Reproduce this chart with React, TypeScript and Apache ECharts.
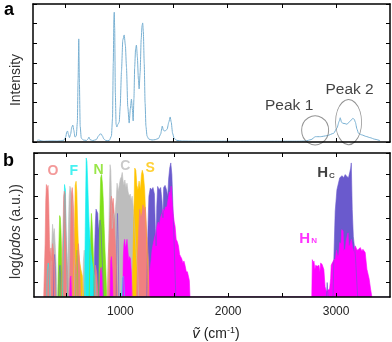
import React, { useEffect, useRef } from "react";
import * as echarts from "echarts";

const F = -0.67; // floor of the log(pdos) axis

// Panel a: IR spectrum [wavenumber, intensity]
const spectrum: [number, number][] = [
  [237, 0.08], [255, 0.1], [275, 0.06], [300, 0.04], [340, 0.05], [380, 0.06], [420, 0.05], [460, 0.06],
  [488, 0.1], [502, 0.25], [512, 0.5], [519, 0.56], [527, 0.4], [537, 0.22], [548, 0.4], [558, 0.75],
  [568, 0.86], [577, 0.6], [588, 0.25], [600, 0.3], [610, 1.0], [617, 3.2], [623, 5.23], [629, 3.0],
  [636, 0.8], [646, 0.2], [665, 0.1], [695, 0.08], [708, 0.15], [717, 0.25], [727, 0.12], [752, 0.07],
  [785, 0.12], [805, 0.3], [818, 0.4], [830, 0.41], [842, 0.3], [855, 0.15], [875, 0.07], [905, 0.08],
  [925, 0.3], [935, 1.2], [942, 4.0], [948, 6.3], [951, 6.58], [955, 5.8], [961, 2.5], [968, 0.9],
  [975, 0.76], [985, 0.9], [997, 1.01], [1006, 1.8], [1018, 3.6], [1030, 5.17], [1043, 5.43], [1054, 4.9],
  [1064, 3.8], [1076, 1.8], [1089, 0.96], [1100, 1.7], [1110, 2.18], [1118, 1.7], [1126, 1.07], [1133, 2.2],
  [1140, 3.8], [1148, 4.7], [1156, 4.92], [1165, 4.3], [1174, 3.2], [1181, 2.69], [1190, 3.5], [1200, 5.2],
  [1208, 5.9], [1214, 6.04], [1220, 5.6], [1228, 4.0], [1236, 2.0], [1244, 0.8], [1254, 0.3], [1270, 0.15],
  [1300, 0.1], [1330, 0.12], [1360, 0.18], [1380, 0.4], [1395, 0.81], [1405, 0.6], [1420, 0.55], [1440, 0.65],
  [1455, 1.0], [1468, 1.27], [1478, 1.0], [1490, 0.45], [1505, 0.18], [1530, 0.08], [1580, 0.05], [1700, 0.04],
  [1900, 0.04], [2100, 0.04], [2300, 0.04], [2500, 0.04], [2650, 0.04], [2719, 0.05], [2770, 0.12], [2811, 0.27],
  [2857, 0.27], [2918, 0.32], [2979, 0.44], [3010, 0.71], [3030, 1.05], [3040, 1.23], [3052, 1.0], [3065, 0.95],
  [3085, 0.93], [3102, 0.9], [3130, 1.05], [3157, 1.2], [3170, 1.15], [3180, 1.0], [3195, 0.65], [3209, 0.44],
  [3240, 0.36], [3280, 0.28], [3316, 0.22], [3360, 0.14], [3408, 0.07],
];

// Peak annotations (panel a)
const peakLabels = ["Peak 1", "Peak 2"];
const peakW = [2808, 3117];
const peakV = [0.59, 1.01];

// Panel b: projected densities of states [wavenumber, log(pdos)]
const pdosHC: [number, number][] = [
  [200, F], [380, F], [386, 0.8], [392, 1.3], [398, 0.8], [404, F], [428, F], [434, 0.5], [440, 0.8], [446, 0.4],
  [452, F], [756, F], [762, 1.5], [768, 2.6], [775, 3.4], [783, 3.3], [791, 3.2], [798, 2.4], [805, 2.7],
  [812, 2.9], [820, 2.6], [828, 1.6], [836, 0.6], [844, F], [962, F], [968, 2.0], [974, 3.2], [980, 2.0],
  [986, F], [1245, F], [1252, 1.5], [1258, 2.8], [1265, 4.0], [1278, 4.38], [1290, 4.3], [1303, 4.4],
  [1316, 4.1], [1325, 2.5], [1332, 1.7], [1338, 3.5], [1346, 4.45], [1360, 4.3], [1374, 4.4], [1386, 3.8],
  [1395, 3.0], [1402, 4.4], [1415, 4.5], [1428, 4.3], [1440, 4.0], [1448, 4.8], [1458, 5.3], [1468, 5.54],
  [1478, 5.0], [1488, 3.5], [1498, 2.0], [1507, 0.5], [1515, F], [2910, F], [2918, 0.0], [2926, F], [2972, F],
  [2980, 1.2], [2992, 3.3], [3008, 4.3], [3034, 4.85], [3056, 4.95], [3070, 4.85], [3085, 5.0], [3102, 4.9],
  [3115, 4.85], [3126, 5.08], [3136, 5.3], [3141, 5.54], [3150, 3.38], [3160, 2.14], [3180, 1.2], [3200, F],
  [3500, F],
];
const pdosC: [number, number][] = [
  [352, F], [358, 0.8], [365, 1.8], [372, 2.7], [380, 2.2], [388, 2.5], [396, 1.8], [404, 1.0], [412, F],
  [505, F], [512, 1.0], [519, 2.5], [526, 4.0], [533, 4.46], [541, 4.3], [549, 4.0], [557, 3.8], [565, 2.8],
  [573, 1.5], [582, F], [650, F], [658, 1.0], [666, 1.5], [674, F], [885, F], [893, 2.0], [899, 4.0],
  [905, 5.46], [912, 5.2], [918, 4.0], [925, 2.5], [932, 2.8], [940, 3.2], [948, 3.0], [955, 3.4], [962, 3.85],
  [970, 4.6], [980, 4.2], [990, 4.5], [1000, 4.8], [1010, 4.9], [1018, 5.1], [1026, 4.7], [1034, 4.5],
  [1042, 4.75], [1052, 4.4], [1062, 4.6], [1072, 4.2], [1082, 4.0], [1092, 4.1], [1100, 3.8], [1110, 4.0],
  [1120, 3.5], [1130, 2.8], [1140, 2.0], [1150, 1.2], [1160, 0.6], [1170, F],
];
const pdosN: [number, number][] = [
  [420, F], [426, 1.0], [432, 2.0], [438, 3.1], [444, 3.0], [450, 2.4], [457, 1.2], [464, F], [585, F],
  [592, 0.8], [600, 1.5], [608, F], [712, F], [718, 1.2], [725, 2.2], [732, 3.2], [738, 2.8], [745, 2.0],
  [752, 1.0], [760, F], [800, F], [806, 2.0], [812, 3.5], [818, 4.85], [826, 5.0], [834, 4.6], [842, 3.8],
  [850, 2.6], [858, 1.5], [866, 0.6], [874, F],
];
const pdosF: [number, number][] = [
  [318, F], [324, 0.6], [332, 0.9], [340, 0.5], [348, F], [465, F], [471, 1.5], [477, 3.0], [483, 4.54],
  [491, 4.3], [498, 2.2], [505, 0.8], [512, F], [668, F], [674, 2.0], [679, 4.0], [684, 5.77], [691, 5.6],
  [698, 4.6], [705, 3.5], [712, 2.6], [720, 1.9], [730, 1.3], [740, 0.9], [752, 0.5], [765, 0.2], [775, F],
  [1012, F], [1020, 0.2], [1030, 0.3], [1040, F],
];
const pdosS: [number, number][] = [
  [564, F], [570, 1.0], [576, 2.6], [582, 4.5], [590, 4.69], [597, 4.2], [604, 2.8], [612, 1.6], [622, 1.0],
  [635, 0.6], [648, 0.3], [660, F], [1110, F], [1118, 1.5], [1126, 3.2], [1134, 5.3], [1144, 5.2], [1154, 4.5],
  [1164, 4.3], [1174, 4.7], [1186, 4.3], [1196, 5.0], [1204, 5.2], [1214, 5.0], [1226, 4.3], [1236, 3.0],
  [1246, 1.8], [1256, 0.6], [1264, F],
];
const pdosO: [number, number][] = [
  [290, F], [296, 0.5], [303, 1.8], [309, 3.8], [315, 4.54], [322, 4.3], [330, 4.5], [337, 3.6], [343, 2.0],
  [350, 1.2], [357, 1.6], [364, 1.0], [372, 1.8], [380, 1.5], [390, 0.8], [398, F], [455, F], [462, 1.0],
  [469, 2.4], [475, 4.0], [481, 4.23], [489, 4.1], [495, 2.8], [502, 1.4], [510, 0.6], [518, F], [528, F],
  [535, 1.2], [541, 2.8], [547, 4.1], [554, 4.4], [561, 4.0], [567, 3.3], [574, 1.8], [582, 0.8], [590, 0.4],
  [600, 1.2], [612, 1.8], [622, 1.0], [632, F], [760, F], [770, 0.8], [782, 0.4], [792, F], [880, F],
  [888, 1.2], [896, 2.0], [904, 3.0], [911, 3.8], [918, 4.0], [926, 3.6], [934, 3.9], [942, 3.3], [950, 2.2],
  [958, 1.4], [966, 0.6], [975, F], [1150, F], [1160, 1.2], [1170, 2.4], [1180, 3.4], [1190, 3.0], [1200, 3.2],
  [1210, 3.6], [1222, 3.3], [1232, 3.5], [1242, 2.6], [1252, 1.8], [1262, 1.0], [1272, F],
];
const pdosHN: [number, number][] = [
  [530, F], [536, 0.2], [542, 0.3], [548, F], [808, F], [814, 0.5], [822, 0.7], [830, 0.3], [836, F], [905, F],
  [911, 1.0], [918, 1.2], [925, 0.6], [932, F], [1022, F], [1028, 1.2], [1034, 1.8], [1040, 2.0], [1048, 1.6],
  [1056, 1.8], [1062, 2.0], [1070, 1.5], [1078, 1.0], [1086, 1.2], [1094, 1.1], [1102, 0.5], [1110, F],
  [1265, F], [1272, 0.5], [1285, 1.0], [1294, 1.5], [1305, 1.8], [1318, 2.1], [1330, 2.3], [1340, 2.6],
  [1352, 2.8], [1362, 2.6], [1372, 3.0], [1386, 3.2], [1398, 3.4], [1410, 3.3], [1418, 3.5], [1432, 3.5],
  [1445, 3.9], [1455, 4.2], [1463, 4.0], [1471, 4.46], [1480, 3.8], [1490, 3.2], [1500, 2.8], [1508, 2.6],
  [1518, 2.0], [1528, 1.9], [1539, 1.7], [1550, 1.3], [1560, 1.2], [1570, 1.1], [1580, 0.9], [1590, 1.0],
  [1600, 0.8], [1612, 0.5], [1622, 0.5], [1631, 0.3], [1640, 0.1], [1646, F], [2775, F], [2780, 1.06],
  [2788, 0.9], [2795, 1.0], [2804, 0.6], [2811, 0.8], [2825, 0.75], [2841, 0.8], [2850, 0.5], [2857, 0.9],
  [2870, 0.85], [2887, 0.6], [2898, -0.2], [2910, -0.4], [2940, -0.3], [2950, 0.2], [2955, 0.8], [2964, 0.9],
  [2980, 1.05], [2994, 1.1], [3004, 1.5], [3015, 1.2], [3025, 1.3], [3034, 1.85], [3047, 1.8], [3052, 2.45],
  [3065, 2.4], [3071, 1.5], [3086, 1.55], [3095, 1.97], [3111, 2.3], [3118, 1.7], [3126, 1.7], [3141, 2.0],
  [3155, 1.6], [3163, 1.4], [3178, 1.7], [3195, 1.5], [3209, 1.54], [3224, 1.62], [3240, 1.45], [3249, 1.54],
  [3270, 1.39], [3286, 0.62], [3307, 0.16], [3320, -0.3], [3332, F],
];

// Element labels (panel b)
const elementNames = ["O", "F", "N", "C", "S"];
const elementLabelW = [375, 568, 798, 1046, 1276];
const elementLabelV = [5.23, 5.23, 5.28, 5.46, 5.37];
const hNames = ["C", "N"];
const hLabelW = [2907, 2741];
const hLabelV = [5.14, 2.1];

// Axis ticks
const xTicks = [500, 1000, 1500, 2000, 2500, 3000];
const xLabels = [1000, 2000, 3000];
const topYTicks = [0, 1, 2, 3, 4, 5, 6, 7];
const bottomYTicks = [0, 1, 2, 3, 4, 5, 6];

const FONT = "Liberation Sans";
const COLORS: Record<string, string> = {
  O: "#F08080",
  F: "#18EEEE",
  N: "#7FE01A",
  C: "#BDBDBD",
  S: "#FFC400",
  HC: "#6A5ACD",
  HN: "#FF00FF",
};

function xAx(grid: number, position: "top" | "bottom", labels: boolean, extra: any = {}) {
  return {
    type: "value",
    gridIndex: grid,
    position,
    min: 200,
    max: 3500,
    z: 10,
    axisLine: { show: true, onZero: false, lineStyle: { color: "#000", width: 1.5 } },
    axisTick: { show: true, inside: true, length: 4, customValues: xTicks, lineStyle: { color: "#000", width: 1 } },
    axisLabel: labels
      ? {
          show: true,
          customValues: xLabels,
          fontSize: 12,
          color: "#222",
          margin: 8,
          fontFamily: FONT,
          formatter: (v: number) => String(v),
        }
      : { show: false },
    splitLine: { show: false },
    ...extra,
  };
}

function yAx(grid: number, position: "left" | "right", min: number, max: number, ticks: number[], extra: any = {}) {
  return {
    type: "value",
    gridIndex: grid,
    position,
    min,
    max,
    z: 10,
    axisLine: { show: true, onZero: false, lineStyle: { color: "#000", width: 1.5 } },
    axisTick: { show: true, inside: true, length: 4, customValues: ticks, lineStyle: { color: "#000", width: 1 } },
    axisLabel: { show: false },
    splitLine: { show: false },
    ...extra,
  };
}

const pdosSeries = [
  { key: "HC", data: pdosHC },
  { key: "C", data: pdosC },
  { key: "N", data: pdosN },
  { key: "F", data: pdosF },
  { key: "S", data: pdosS },
  { key: "O", data: pdosO },
  { key: "HN", data: pdosHN },
].map((s) => ({
  type: "line",
  name: s.key,
  xAxisIndex: 2,
  yAxisIndex: 2,
  data: s.data,
  showSymbol: false,
  symbol: "none",
  color: COLORS[s.key],
  lineStyle: { width: 0.6, color: COLORS[s.key] },
  areaStyle: { origin: "start", opacity: 1, color: COLORS[s.key] },
  silent: true,
  z: 2,
}));

const option: any = {
  animation: false,
  textStyle: { fontFamily: FONT },
  grid: [
    { left: 31, right: 2, top: 4, height: 138 },
    { left: 31, right: 2, top: 153, height: 144 },
  ],
  xAxis: [
    xAx(0, "bottom", false),
    xAx(0, "top", false),
    xAx(1, "bottom", true, {
      name: "{i|\u1E7D}{n| (cm}{s|-1}{n|)}",
      nameLocation: "middle",
      nameGap: 28,
      nameTextStyle: {
        padding: [0, 0, 0, 8],
        rich: {
          i: { fontSize: 15, fontStyle: "italic", color: "#222", fontFamily: FONT },
          n: { fontSize: 14, color: "#222", fontFamily: FONT },
          s: { fontSize: 9, color: "#222", verticalAlign: "top", fontFamily: FONT },
        },
      },
    }),
    xAx(1, "top", false),
  ],
  yAxis: [
    yAx(0, "left", 0, 7, topYTicks, {
      name: "Intensity",
      nameLocation: "middle",
      nameGap: 11,
      nameTextStyle: { fontSize: 14, color: "#333", fontFamily: FONT, padding: [0, 14, 0, 0] },
    }),
    yAx(0, "right", 0, 7, topYTicks),
    yAx(1, "left", F, 6, bottomYTicks, {
      name: "{n|log(}{i|pdos}{n| (a.u.))}",
      nameLocation: "middle",
      nameGap: 12,
      nameTextStyle: {
        padding: [0, 13, 0, 0],
        rich: {
          n: { fontSize: 14, color: "#333", fontFamily: FONT },
          i: { fontSize: 14, color: "#333", fontStyle: "italic", fontFamily: FONT },
        },
      },
    }),
    yAx(1, "right", F, 6, bottomYTicks),
  ],
  graphic: [
    { type: "text", x: 4, y: 0, style: { text: "a", font: `bold 18px ${FONT}`, fill: "#000", verticalAlign: "top" } },
    { type: "text", x: 3, y: 151, style: { text: "b", font: `bold 18px ${FONT}`, fill: "#000", verticalAlign: "top" } },
  ],
  series: [
    {
      type: "line",
      name: "spectrum",
      xAxisIndex: 0,
      yAxisIndex: 0,
      data: spectrum,
      showSymbol: false,
      symbol: "none",
      smooth: 0.2,
      smoothMonotone: "x",
      lineStyle: { width: 1, color: "#79B0D2" },
      silent: true,
    },
    {
      type: "scatter",
      name: "peaks",
      xAxisIndex: 0,
      yAxisIndex: 0,
      silent: true,
      z: 5,
      data: peakLabels.map((p, i) => ({
        value: [peakW[i], peakV[i]],
        symbolSize: i === 0 ? [27, 29] : [26, 45],
        label: { formatter: p, offset: i === 0 ? [-26, 0] : [1, 0], distance: i === 0 ? 3 : 2 },
      })),
      symbol: "circle",
      itemStyle: { color: "rgba(0,0,0,0)", borderColor: "#777", borderWidth: 1 },
      label: { show: true, position: "top", fontSize: 15.5, color: "#111", fontFamily: FONT },
    },
    ...pdosSeries,
    {
      type: "scatter",
      name: "elements",
      xAxisIndex: 2,
      yAxisIndex: 2,
      silent: true,
      z: 6,
      symbolSize: 0,
      data: elementNames.map((n, i) => ({
        value: [elementLabelW[i], elementLabelV[i]],
        label: { formatter: n, color: COLORS[n] },
      })),
      label: { show: true, position: "inside", fontSize: 14, fontWeight: "bold", fontFamily: FONT },
    },
    {
      type: "scatter",
      name: "hydrogens",
      xAxisIndex: 2,
      yAxisIndex: 2,
      silent: true,
      z: 6,
      symbolSize: 0,
      data: hNames.map((n, i) => {
        const c = i === 0 ? "#111" : COLORS.HN;
        return {
          value: [hLabelW[i], hLabelV[i]],
          label: {
            formatter: `{h|H}{s|${n}}`,
            rich: {
              h: { fontSize: 15, fontWeight: "bold", color: c, fontFamily: FONT },
              s: { fontSize: 8, fontWeight: "bold", color: c, fontFamily: FONT, verticalAlign: "bottom", padding: [6, 0, 0, 1] },
            },
          },
        };
      }),
      label: { show: true, position: "inside" },
    },
  ],
};

export default function App() {
  const ref = useRef<HTMLDivElement>(null);
  useEffect(() => {
    const chart = echarts.init(ref.current!, null, { renderer: "svg" });
    chart.setOption(option);
    return () => chart.dispose();
  }, []);
  return <div ref={ref} style={{ position: "fixed", left: 0, top: 0, width: 392, height: 342 }} />;
}
